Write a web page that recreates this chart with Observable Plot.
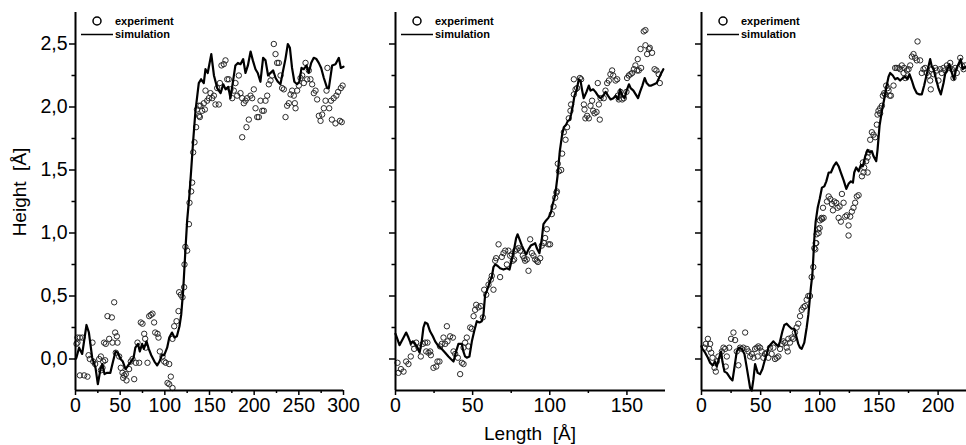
<!DOCTYPE html>
<html><head><meta charset="utf-8">
<script src="https://cdn.jsdelivr.net/npm/d3@7"></script>
<script src="https://cdn.jsdelivr.net/npm/@observablehq/plot@0.6"></script>
<style>
body{margin:0;background:#fff;}
#chart{position:relative;width:966px;height:445px;overflow:hidden;font-family:"Liberation Sans",Arial,sans-serif;}
#chart svg{position:absolute;top:0;}
</style></head><body><div id="chart"></div>
<script>
// ---- tick values ----
const yMajor = [0, 0.5, 1, 1.5, 2, 2.5];
const yMinor = [0.25, 0.75, 1.25, 1.75, 2.25];
const xMajor1 = [0, 50, 100, 150, 200, 250, 300];
const xMinor1 = [25, 75, 125, 175, 225, 275];
const xMajor2 = [0, 50, 100, 150];
const xMinor2 = [25, 75, 125];
const xMajor3 = [0, 50, 100, 150, 200];
const xMinor3 = [25, 75, 125, 175, 225];
const legendLabels = ["experiment", "simulation"];
const xTitle = "Length  [Å]";
const yTitle = "Height  [Å]";

// ---- panel 1 ----
const exp1 = [[1.1,0.12],[2.2,0.17],[4.9,0.17],[7.8,0.17],[2.2,0.13],[4.9,-0.13],[9.7,-0.13],[13.4,-0.14],[14.6,0.03],[16,0.0],[19,0.13],[19.8,-0.02],[22,-0.04],[26.5,0.0],[28.4,0.02],[31,-0.02],[33.2,-0.01],[28.4,-0.09],[30.2,-0.07],[32,0.13],[33.9,0.12],[35.8,0.34],[40.7,0.33],[37.7,0.16],[41.4,0.13],[43.3,0.45],[44.4,0.21],[46.3,0.18],[47,0.13],[45.1,0.05],[48.9,0.02],[50.7,-0.07],[52.6,-0.11],[54.5,-0.13],[56.3,-0.12],[53.4,-0.15],[57.1,-0.17],[60,-0.08],[61.9,-0.02],[63.8,0.0],[65.7,-0.16],[67.5,-0.03],[69.4,0.13],[71.3,-0.03],[73.1,0.29],[75,0.28],[76.9,0.2],[78,0.16],[78.7,0.09],[80.6,-0.03],[82.5,0.34],[84.3,0.35],[86.2,0.36],[88,0.29],[89.2,0.21],[91.8,0.2],[92.9,0.17],[94.4,0.06],[97.4,0.02],[99.3,-0.02],[101.1,-0.03],[104.9,-0.04],[106.7,-0.14],[103,-0.19],[104.9,-0.2],[108.6,-0.23],[108.6,0.16],[110.5,0.26],[113.1,0.3],[115.3,0.38],[116,0.53],[117.9,0.51],[119.8,0.49],[121.6,0.57],
[122,0.75],[123,0.89],[125,0.86],[127,1.07],[127.6,1.24],[129.5,1.33],[130.6,1.4],[131.7,1.64],[133.2,1.72],[135,1.84],[136,1.98],[138.4,1.93],[138,2.01],
[139.9,2.01],[139.2,1.92],[141.8,1.97],[144.8,1.98],[143.7,2.03],[145.5,2.13],[147.4,2.05],[149.3,2.07],[151.1,2.11],[153,2.07],[154.9,2.09],[156.7,2.02],[160.4,2.02],[158.6,2.15],[161.6,2.19],[163.4,2.33],[166,2.34],[167.9,2.37],[169.8,2.22],[171.6,2.22],[173.5,2.14],[175.4,2.07],[177.2,2.13],[179.1,2.19],[181,2.09],[182.8,2.25],[184.7,2.11],[186.6,2.07],[188.4,2.03],[190.3,2.05],[192.2,2.07],[186.6,1.76],[191.4,1.84],[194,1.9],[195.9,2.09],[197.8,2.07],[199.6,2.14],[201.5,1.99],[203.4,1.92],[205.2,1.92],[207.1,2.05],[209,1.97],[210.8,1.97],[212.7,2.05],[214.6,2.09],[216.4,2.18],[218.3,2.21],[220.1,2.25],[222,2.5],[223.9,2.42],[225.7,2.35],[227.6,2.35],[229.5,2.25],[231.3,2.15],[233.2,2.14],[235.1,1.92],[236.9,2.01],[238.8,2.03],[240.7,2.1],[242.5,2.13],[244.4,2.09],[245.5,2.03],[246.3,1.99],[248.1,2.13],[250,2.17],[251.9,2.23],[253.7,2.25],[255.6,2.19],[257.5,2.35],[259.3,2.22],[261.2,2.29],[263,2.22],[264.9,2.18],[266.8,2.11],[268.7,2.13],[270.5,2.06],[272.4,1.93],[274.3,1.89],[276.1,1.94],[278,1.99],[279.9,2.05],[281,2.13],[282,2.31],[284,1.99],[286,2.05],[287,1.9],[289,2.07],[291,1.87],[292,2.09],[294,2.12],[296,1.89],[297,2.15],[298,1.88],[299,2.17]];
const sim1 = [[0,0.0],[1,0.01],[4,0.09],[7.5,0.04],[12.3,0.27],[15,0.21],[18.7,0.01],[22.4,-0.07],[25,-0.2],[28,-0.08],[30,-0.04],[32.5,-0.12],[35,-0.11],[39,-0.11],[42,-0.02],[44.8,0.06],[47.4,0.05],[50.4,0.0],[53,-0.02],[56,-0.08],[59,-0.05],[62.4,-0.02],[65,0.01],[67,0.09],[70,0.12],[72,0.06],[74.6,0.12],[76.5,0.08],[79.5,0.14],[82,0.08],[84.8,0.03],[88.4,-0.02],[91.4,-0.05],[94,-0.02],[96.7,0.03],[99.3,0.03],[102.6,0.09],[105,0.17],[108,0.21],[110.8,0.17],[113.5,0.18],[116.4,0.26],[118.3,0.35],[120.5,0.54],[123,0.86],[125,1.1],[127.5,1.3],[129.5,1.5],[131.7,1.73],[134.3,1.97],[138,2.19],[140.6,2.22],[143.6,2.19],[145.5,2.3],[148,2.27],[152,2.42],[155,2.25],[158.6,2.15],[162.4,2.11],[165.4,2.18],[168,2.14],[171,2.16],[173.5,2.07],[176.2,2.2],[179,2.33],[181.8,2.35],[184.7,2.34],[187.7,2.38],[190.3,2.27],[193,2.33],[196,2.44],[198.5,2.37],[201.5,2.3],[204,2.27],[207,2.2],[210,2.39],[212.7,2.37],[215.6,2.25],[218,2.27],[221.3,2.29],[224,2.23],[226.6,2.2],[229.4,2.18],[232.4,2.29],[235,2.38],[237.7,2.5],[240,2.47],[242.4,2.31],[245,2.2],[248,2.18],[250.6,2.2],[253,2.31],[255.6,2.3],[258.6,2.33],[261,2.27],[263.8,2.35],[266.7,2.39],[269.7,2.38],[272.3,2.35],[275,2.31],[278,2.23],[281.7,2.15],[283.6,2.15],[287.3,2.33],[291,2.34],[294.8,2.39],[297,2.31],[300,2.32]];

// ---- panel 2 ----
const exp2 = [[1.3,-0.03],[1.9,-0.11],[3.5,-0.08],[5.2,-0.1],[6.9,-0.02],[8.4,-0.04],[9.9,0.02],[11.2,0.12],[12.1,0.08],[13.4,0.13],[14.9,0.09],[16.4,0.02],[17.7,0.12],[19.2,0.13],[20.7,0.13],[19.9,0.06],[21.4,0.05],[22.5,0.06],[22.9,0.03],[24.6,-0.07],[26.4,-0.06],[27.2,-0.02],[28.5,-0.02],[28.9,0.1],[30,0.12],[31.1,0.17],[32.2,0.12],[33.3,0.26],[33.7,0.14],[35.4,0.18],[37.2,0.17],[37.6,0.06],[38.7,0.04],[40.4,0.01],[41.9,-0.12],[43,-0.03],[44.1,-0.04],[44.1,0.09],[45.1,0.13],[46.2,0.17],[47.3,0.1],[48.4,0.25],[49.5,0.24],[50.6,0.34],[51.6,0.39],[52.3,0.43],[53.8,0.41],[55.3,0.42],[56.6,0.33],[57.5,0.55],[58.8,0.51],[60.3,0.59],[61.8,0.63],[62.4,0.66],[63.5,0.55],[64.6,0.78],[65.2,0.8],[66.8,0.91],[67.8,0.65],[68.9,0.81],[70,0.84],[71.1,0.86],[72.2,0.75],[73.2,0.86],[74.3,0.82],[75.4,0.83],[76,0.78],[76.9,0.79],[77.6,0.86],[78.6,0.87],[79.7,0.88],[80.8,0.86],[82.5,0.82],[83.4,0.8],[84,0.78],[85.1,0.79],[86.2,0.7],[87.3,0.95],[88.4,0.84],[89.4,0.82],[90.5,0.79],[91.6,0.78],[92.3,0.77],[93.8,0.8],[94.8,0.9],[96.3,0.92],[97,0.96],[98.1,1.03],[99.1,0.91],[100.2,0.91],[101.3,1.15],[102.4,1.21],[103.5,1.28],[104.6,1.33],
[104.3,1.32],[105.9,1.49],[107.4,1.5],[105.2,1.55],[108,1.63],[110.2,1.74],[109.1,1.8],[111.2,1.84],[112.3,1.91],[113.4,1.97],[113.8,2.02],[115.6,2.1],[116.7,2.14],[115.6,2.22],[117.7,2.15],[119.5,2.23],[120.3,2.22],[122.1,2.02],[122.5,1.98],[123.1,1.91],[124.2,1.93],[125.3,1.91],[126.4,2.01],[127.4,2.05],[128.1,1.97],[129,1.95],[130.3,1.96],[131.1,2.19],[131.8,2.02],[132.9,2.07],[132.4,1.9],[135,2.07],[136.1,2.13],[137.2,2.19],[138.3,2.21],[139.3,2.26],[140.4,2.29],[141.1,2.25],[142.6,2.21],[143.7,2.22],[144.1,2.09],[144.7,2.06],[145.8,2.12],[146.9,2.06],[148,2.07],[149.7,2.12],[150.1,2.23],[151.2,2.25],[152.3,2.26],[153.4,2.27],[154.5,2.3],[155.5,2.33],[156.6,2.29],[157,2.38],[157.7,2.29],[158.8,2.46],[159.2,2.31],[160.9,2.6],[162,2.61],[162,2.49],[163.1,2.42],[164.2,2.46],[164.8,2.47],[166.3,2.43],[167.9,2.3],[169.1,2.29],[170.6,2.26],[171.3,2.19]];
const sim2 = [[0,0.2],[0.9,0.17],[2.6,0.11],[4.8,0.16],[6.9,0.21],[8.4,0.17],[10,0.12],[11.2,0.14],[12.7,0.12],[14.3,0.09],[15.6,0.05],[17,0.14],[18.1,0.25],[19.2,0.29],[20.7,0.28],[22.4,0.22],[24.2,0.18],[25.7,0.14],[27.9,0.1],[30,0.08],[32.2,0.05],[34.3,0.02],[35.9,0.0],[37.6,-0.02],[39.3,0.06],[40.8,0.12],[41.9,0.12],[43,0.12],[44,0.06],[45.1,0.02],[46.2,0.01],[47.9,0.02],[49.5,0.14],[51,0.22],[52.7,0.3],[54.4,0.29],[55.9,0.3],[57,0.35],[58.1,0.51],[59.2,0.54],[60.3,0.58],[61.3,0.62],[62.4,0.65],[63.5,0.73],[64.6,0.75],[66.1,0.74],[67.8,0.72],[70,0.71],[72.2,0.72],[73.9,0.71],[75.4,0.79],[77,0.88],[78.2,0.96],[79.1,0.99],[80.4,0.95],[81.9,0.9],[83.4,0.86],[84.7,0.83],[86.2,0.87],[87.7,0.9],[89.4,0.91],[90.5,0.92],[91.6,0.88],[93.3,0.84],[94.8,0.95],[95.9,1.07],[97.6,1.1],[99.1,1.12],[100.7,1.16],[101.9,1.23],[103.5,1.3],[105,1.45],[106.5,1.65],[108,1.78],[109.1,1.84],[110.6,1.86],[111.7,1.89],[113,1.9],[113.8,1.94],[115.1,2.02],[116,2.09],[117.3,2.13],[118.8,2.22],[119.9,2.21],[121,2.13],[122,2.07],[123.8,2.12],[125.3,2.17],[126.4,2.13],[128.1,2.14],[129.6,2.12],[131.2,2.09],[132.9,2.07],[134.6,2.09],[136.2,2.12],[137.7,2.09],[139.4,2.06],[141.2,2.07],[142.7,2.09],[144.2,2.06],[145.5,2.14],[147,2.09],[148.5,2.07],[149.8,2.13],[151.3,2.18],[152.4,2.15],[154.2,2.13],[155.7,2.1],[157.2,2.07],[158.5,2.12],[160,2.17],[161.5,2.23],[162.8,2.19],[164.3,2.17],[165.8,2.17],[167.6,2.18],[169.3,2.19],[170.8,2.23],[171.9,2.26],[173.6,2.3]];

// ---- panel 3 ----
const exp3 = [[2.5,0.09],[3.7,0.12],[5.4,0.16],[7.3,0.12],[8.2,0.05],[6.5,0.08],[9.3,0.01],[11,-0.07],[12.1,-0.1],[12.9,-0.02],[14.3,0.02],[17.2,0.06],[18.6,0.09],[20,0.08],[21.4,0.02],[20.5,-0.06],[23.4,0.09],[25,0.16],[27,0.21],[28.4,0.15],[29.8,0.06],[31.2,-0.05],[32.6,0.09],[34,0.08],[35.4,0.09],[36.9,0.21],[38.3,0.08],[39.7,0.06],[41.1,0.02],[42.5,0.04],[43.9,0.01],[45.3,0.08],[46.7,0.09],[47.5,0.02],[48.1,0.1],[49.5,0.09],[50.9,0.06],[52.3,0.01],[53.7,0.04],[55.1,0.05],[56.5,0.01],[57.9,0.09],[59.3,0.04],[60.8,0.09],[62.2,0.0],[63.6,0.01],[65,0.02],[66.4,0.08],[67.8,0.12],[69.2,0.14],[70.6,0.13],[72,0.09],[72.9,0.06],[73.4,0.16],[74.8,0.13],[76.2,0.17],[77.6,0.16],[79,0.21],[80.4,0.25],[81.8,0.28],[83.3,0.34],[84.7,0.39],[86.1,0.41],[87.5,0.42],[88.9,0.47],[90.3,0.5],[91.7,0.5],[93.1,0.65],[94.5,0.73],[95.4,0.88],[96.5,0.92],[97.3,0.99],[98.7,1.03],[100.1,1.1],[101.5,1.12],
[96.2,0.87],[97,0.92],[99,1.0],[99.9,1.04],[101.8,1.11],[103.2,1.12],[102.7,1.2],[106.1,1.25],[107.5,1.29],[108.9,1.27],[110.3,1.23],[111.1,1.18],[112.2,1.25],[113.9,1.24],[115,1.2],[115.9,1.12],[116.7,1.21],[118.7,1.31],[120.1,1.24],[117.8,1.09],[121.5,1.13],[122.9,1.14],[124.3,1.06],[124.3,0.98],[125.7,1.13],[127.1,1.17],[128.5,1.2],[129.9,1.24],[131.3,1.29],[132.8,1.3],[135.6,1.45],[137,1.48],[137.5,1.52],[136.4,1.56],[139.2,1.57],[140.4,1.6],[141.2,1.64],[140.4,1.48],[142.6,1.74],[144,1.8],[145.4,1.78],[146.8,1.76],[148.2,1.86],[148.8,1.94],[149.6,1.97],[151,1.99],[152.5,2.01],[151,1.95],[153.3,2.09],[154.4,2.11],[155.3,2.1],[156.1,2.17],[157.3,2.15],[159,2.09],[160.1,2.09],[158.1,2.13],[162.3,2.17],[163.7,2.31],[165.1,2.31],[166.5,2.31],[167.9,2.3],[169.3,2.33],[170.8,2.27],[172.2,2.23],[171.3,2.31],[173.6,2.29],[175,2.3],[176.4,2.33],[177.8,2.4],[179.2,2.42],[180.6,2.39],[182,2.37],[182.6,2.52],[184.8,2.37],[186.2,2.27],[187.6,2.3],[189,2.31],[190.4,2.27],[191.8,2.25],[193.3,2.21],[193.8,2.14],[194.7,2.3],[196.1,2.26],[197.5,2.31],[198.9,2.29],[200.3,2.21],[201.7,2.3],[203.1,2.27],[204.6,2.31],[206,2.29],[207.4,2.33],[208.8,2.31],[210.2,2.35],[211.6,2.3],[213,2.23],[214.4,2.31],[215.8,2.27],[218.7,2.39],[220.1,2.33],[221.5,2.3],[222.9,2.33]];
const sim3 = [[0,0.1],[0.8,0.08],[3.1,0.05],[5.4,0.01],[7.3,-0.03],[9.3,-0.05],[11.5,-0.02],[12.9,-0.06],[14.9,0.01],[16.6,0.06],[17.7,-0.02],[19.4,-0.1],[21.4,-0.11],[24.2,-0.15],[26.2,-0.17],[27.8,-0.07],[29.8,0.06],[31.8,0.09],[34,0.08],[36.3,0.04],[38.3,-0.07],[39.7,-0.15],[41.1,-0.23],[42.5,-0.25],[43.9,-0.16],[45.3,-0.04],[47.5,-0.11],[49.5,-0.12],[51.5,-0.08],[53.2,-0.02],[55.1,0.04],[56.5,0.09],[58.8,0.12],[60.8,0.14],[62.7,0.12],[65,0.1],[66.4,0.14],[68.4,0.22],[70,0.27],[72,0.28],[74,0.26],[76.2,0.24],[78.5,0.24],[80.4,0.17],[81.8,0.12],[83.3,0.09],[84.7,0.08],[86.9,0.13],[88.9,0.25],[90.3,0.35],[91.7,0.49],[92.5,0.57],[93.7,0.67],[94.5,0.8],[95.4,0.96],[96.5,1.09],[98.2,1.2],[99.9,1.27],[101.8,1.36],[103.8,1.37],[105.5,1.41],[107.5,1.48],[109.4,1.48],[111.7,1.53],[113.9,1.56],[115.9,1.53],[117.8,1.48],[120.1,1.42],[122.4,1.35],[124.3,1.39],[126.3,1.41],[128,1.4],[129.1,1.48],[130.8,1.52],[132.8,1.49],[134.8,1.54],[136.4,1.53],[138.4,1.61],[140.4,1.66],[142.1,1.64],[144,1.65],[145.4,1.61],[147.7,1.57],[148.8,1.66],[150.5,1.85],[152.5,1.97],[154.4,2.06],[156.1,2.15],[158.1,2.24],[159.5,2.27],[161.7,2.25],[163.7,2.22],[165.7,2.23],[167.9,2.21],[170.2,2.23],[172.2,2.24],[174.1,2.22],[175.8,2.26],[177.8,2.21],[179.8,2.15],[182,2.11],[184.3,2.1],[186.2,2.1],[188.2,2.17],[189.9,2.24],[191.8,2.32],[193.3,2.38],[194.7,2.32],[196.1,2.3],[198.3,2.22],[200.3,2.15],[202.3,2.1],[204.6,2.19],[205.9,2.26],[207.9,2.3],[209.6,2.34],[211.6,2.27],[213.5,2.22],[215.2,2.3],[217.2,2.34],[219.1,2.38],[220.8,2.3],[223.5,2.32]];

const FONT = "Liberation Sans, Arial, Helvetica, sans-serif";
const fmtY = d => d.toFixed(1).replace(".", ",");
const blank = () => "";

function panel({exp, sim, xDomain, xMajor, xMinor, left, width, marginLeft, marginRight, yLabels}) {
  const svg = Plot.plot({
    width, height: 445,
    marginLeft, marginRight, marginTop: 12, marginBottom: 55,
    x: {domain: xDomain, label: null},
    y: {domain: [-0.25, 2.75], label: null},
    style: {fontFamily: FONT, color: "#000", background: "transparent", overflow: "visible"},
    marks: [
      Plot.dot(exp, {x: d => d[0], y: d => d[1], r: 2.7, stroke: "#2a2a2a", strokeWidth: 1, fill: "none"}),
      Plot.line(sim, {x: d => d[0], y: d => d[1], stroke: "#000", strokeWidth: 2.2, strokeLinejoin: "round"}),
      Plot.axisX({ticks: xMajor, tickSize: 5, tickPadding: 3, fontSize: 19.5, tickFormat: d => String(d), strokeWidth: 1.5, label: null}),
      Plot.axisX({ticks: xMinor, tickSize: 3, tickFormat: blank, strokeWidth: 1.5, label: null}),
      Plot.axisY({ticks: yMajor, tickSize: 6, tickPadding: 2, fontSize: 19.5, tickFormat: yLabels ? fmtY : blank, strokeWidth: 1.5, label: null}),
      Plot.axisY({ticks: yMinor, tickSize: 3.5, tickFormat: blank, strokeWidth: 1.5, label: null}),
      Plot.ruleX([xDomain[0]], {stroke: "#000", strokeWidth: 2}),
      Plot.ruleY([-0.25], {stroke: "#000", strokeWidth: 2})
    ]
  });
  svg.style.left = left + "px";
  const s = d3.select(svg);
  const g = s.append("g").attr("font-family", FONT).attr("font-size", 11)
    .attr("font-weight", "bold").attr("text-anchor", "start");
  g.append("circle").attr("cx", marginLeft + 22).attr("cy", 21).attr("r", 4)
    .attr("fill", "none").attr("stroke", "#000").attr("stroke-width", 1.5);
  g.append("text").attr("x", marginLeft + 40).attr("y", 21).attr("dy", "0.35em").text(legendLabels[0]);
  g.append("line").attr("x1", marginLeft + 6).attr("x2", marginLeft + 38).attr("y1", 34.5).attr("y2", 34.5)
    .attr("stroke", "#000").attr("stroke-width", 1.5);
  g.append("text").attr("x", marginLeft + 40).attr("y", 34.5).attr("dy", "0.35em").text(legendLabels[1]);
  document.getElementById("chart").appendChild(svg);
  return s;
}

const p1 = panel({exp: exp1, sim: sim1, xDomain: [0, 300], xMajor: xMajor1, xMinor: xMinor1, left: 0, width: 355, marginLeft: 75, marginRight: 12, yLabels: true});
const p2 = panel({exp: exp2, sim: sim2, xDomain: [0, 175], xMajor: xMajor2, xMinor: xMinor2, left: 355, width: 320, marginLeft: 40, marginRight: 10, yLabels: false});
const p3 = panel({exp: exp3, sim: sim3, xDomain: [0, 224], xMajor: xMajor3, xMinor: xMinor3, left: 675, width: 291, marginLeft: 26, marginRight: 0, yLabels: false});

p1.append("text").attr("transform", "translate(19,192) rotate(-90)")
  .attr("text-anchor", "middle").attr("dy", "0.35em")
  .attr("font-family", FONT).attr("font-size", 19).text(yTitle);
p2.append("text").attr("x", 175).attr("y", 433)
  .attr("text-anchor", "middle").attr("dy", "0.35em")
  .attr("font-family", FONT).attr("font-size", 19).text(xTitle);
</script></body></html>
